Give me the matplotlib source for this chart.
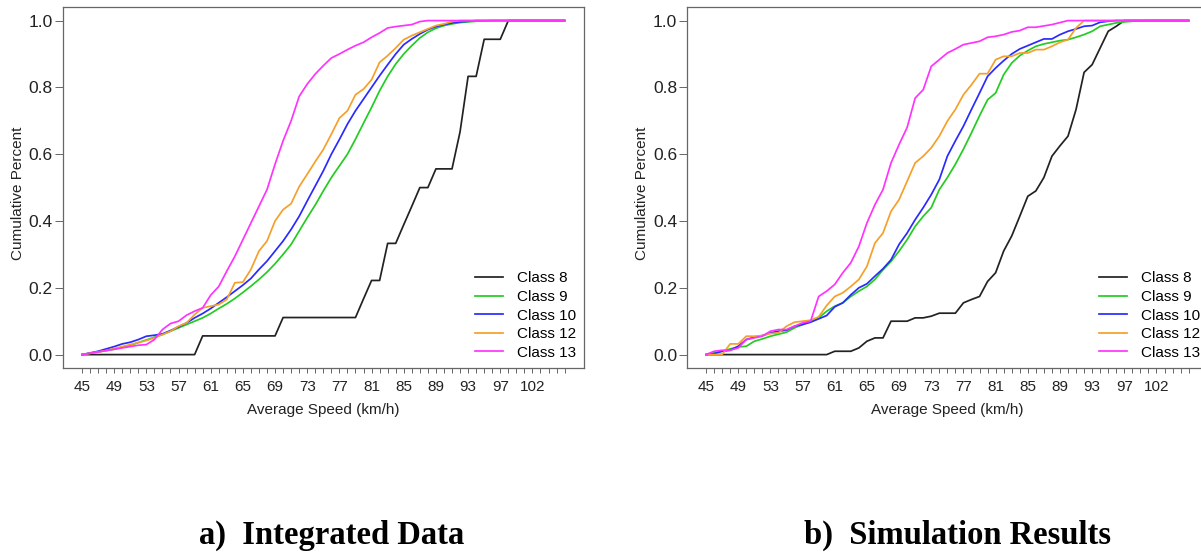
import numpy as np
import matplotlib
matplotlib.use("Agg")
from matplotlib import pyplot as plt

# average speed classes on the x axis (km/h); 99 has no records
speeds = list(range(45, 99)) + list(range(100, 107))
classes = ["Class 8", "Class 9", "Class 10", "Class 12", "Class 13"]
colors = ["#222222", "#22cc22", "#2a2aff", "#f5a02a", "#ff33ff"]

# integrated data, cumulative share per speed class
int_c8 = [0, 0, 0, 0, 0, 0, 0, 0, 0, 0, 0, 0, 0, 0, 0,
          0.056, 0.056, 0.056, 0.056, 0.056, 0.056, 0.056, 0.056, 0.056, 0.056,
          0.111, 0.111, 0.111, 0.111, 0.111, 0.111, 0.111, 0.111, 0.111, 0.111,
          0.167, 0.222, 0.222, 0.333, 0.333, 0.389, 0.444, 0.5, 0.5,
          0.556, 0.556, 0.556, 0.667, 0.833, 0.833, 0.944, 0.944, 0.944,
          1, 1, 1, 1, 1, 1, 1, 1]
int_c9 = [0, 0.004, 0.008, 0.012, 0.016, 0.022, 0.028, 0.036, 0.044, 0.052,
          0.06, 0.07, 0.08, 0.09, 0.1, 0.11, 0.123, 0.138, 0.152, 0.168,
          0.186, 0.205, 0.225, 0.247, 0.272, 0.3, 0.33, 0.37, 0.41, 0.448,
          0.49, 0.53, 0.565, 0.6, 0.645, 0.693, 0.74, 0.79, 0.833, 0.87,
          0.9, 0.925, 0.948, 0.965, 0.977, 0.985, 0.99, 0.994, 0.996, 0.998,
          0.999, 1, 1, 1, 1, 1, 1, 1, 1, 1, 1]
int_c10 = [0, 0.005, 0.01, 0.017, 0.024, 0.032, 0.037, 0.045, 0.055, 0.058,
           0.062, 0.072, 0.083, 0.095, 0.11, 0.123, 0.138, 0.155, 0.172, 0.19,
           0.208, 0.228, 0.255, 0.28, 0.31, 0.34, 0.375, 0.414, 0.46, 0.505,
           0.55, 0.6, 0.644, 0.69, 0.73, 0.765, 0.8, 0.835, 0.868, 0.9,
           0.928, 0.945, 0.96, 0.973, 0.982, 0.988, 0.993, 0.996, 0.998, 1,
           1, 1, 1, 1, 1, 1, 1, 1, 1, 1, 1]
int_c12 = [0, 0.004, 0.008, 0.012, 0.018, 0.024, 0.03, 0.036, 0.042, 0.05,
           0.06, 0.07, 0.085, 0.095, 0.12, 0.14, 0.145, 0.15, 0.165, 0.215,
           0.217, 0.255, 0.31, 0.34, 0.4, 0.434, 0.452, 0.503, 0.54, 0.578,
           0.614, 0.66, 0.708, 0.73, 0.778, 0.795, 0.823, 0.875, 0.895, 0.918,
           0.943, 0.955, 0.965, 0.975, 0.985, 0.99, 0.997, 1, 1, 1,
           1, 1, 1, 1, 1, 1, 1, 1, 1, 1, 1]
int_c13 = [0, 0.004, 0.008, 0.012, 0.016, 0.02, 0.024, 0.028, 0.03, 0.045,
           0.075, 0.093, 0.1, 0.118, 0.13, 0.14, 0.178, 0.204, 0.25, 0.294,
           0.344, 0.394, 0.444, 0.494, 0.57, 0.64, 0.7, 0.773, 0.81, 0.84,
           0.865, 0.888, 0.9, 0.913, 0.925, 0.935, 0.95, 0.963, 0.978, 0.982,
           0.985, 0.988, 0.997, 1, 1, 1, 1, 1, 1, 1,
           1, 1, 1, 1, 1, 1, 1, 1, 1, 1, 1]

# simulation results
sim_c8 = [0, 0, 0, 0, 0, 0, 0, 0, 0, 0, 0, 0, 0, 0, 0, 0,
          0.01, 0.01, 0.01, 0.02, 0.04, 0.05, 0.05, 0.1, 0.1, 0.1,
          0.11, 0.11, 0.115, 0.124, 0.124, 0.124, 0.155, 0.165, 0.174, 0.219,
          0.245, 0.31, 0.355, 0.414, 0.474, 0.49, 0.53, 0.594, 0.625, 0.654,
          0.734, 0.845, 0.868, 0.918, 0.968, 0.983, 1, 1, 1, 1, 1, 1, 1, 1, 1]
sim_c9 = [0, 0.005, 0.01, 0.017, 0.023, 0.025, 0.04, 0.047, 0.055, 0.061,
          0.067, 0.08, 0.09, 0.1, 0.11, 0.13, 0.145, 0.155, 0.174, 0.19,
          0.204, 0.225, 0.254, 0.279, 0.31, 0.344, 0.384, 0.414, 0.44, 0.494,
          0.53, 0.57, 0.615, 0.664, 0.715, 0.763, 0.783, 0.838, 0.873, 0.895,
          0.91, 0.923, 0.93, 0.935, 0.94, 0.943, 0.95, 0.958, 0.968, 0.983,
          0.988, 0.993, 0.996, 0.998, 0.999, 1, 1, 1, 1, 1, 1]
sim_c10 = [0, 0.003, 0.01, 0.013, 0.025, 0.045, 0.052, 0.057, 0.065, 0.07,
           0.073, 0.085, 0.09, 0.097, 0.107, 0.117, 0.143, 0.155, 0.179, 0.2,
           0.212, 0.235, 0.257, 0.284, 0.33, 0.364, 0.404, 0.44, 0.479, 0.524,
           0.594, 0.64, 0.684, 0.734, 0.783, 0.833, 0.858, 0.88, 0.9, 0.915,
           0.925, 0.935, 0.945, 0.945, 0.958, 0.968, 0.975, 0.983, 0.985, 0.995,
           0.998, 1, 1, 1, 1, 1, 1, 1, 1, 1, 1]
sim_c12 = [0, 0, 0, 0.032, 0.032, 0.055, 0.055, 0.057, 0.063, 0.065,
           0.085, 0.097, 0.1, 0.103, 0.113, 0.147, 0.174, 0.185, 0.204, 0.225,
           0.264, 0.334, 0.364, 0.429, 0.464, 0.519, 0.574, 0.594, 0.619, 0.654,
           0.699, 0.734, 0.778, 0.808, 0.841, 0.841, 0.883, 0.893, 0.893, 0.903,
           0.903, 0.913, 0.913, 0.923, 0.935, 0.943, 0.978, 1, 1, 1,
           1, 1, 1, 1, 1, 1, 1, 1, 1, 1, 1]
sim_c13 = [0, 0.01, 0.013, 0.013, 0.02, 0.045, 0.05, 0.055, 0.07, 0.075,
           0.075, 0.085, 0.095, 0.1, 0.174, 0.19, 0.21, 0.245, 0.275, 0.324,
           0.394, 0.449, 0.494, 0.574, 0.629, 0.68, 0.768, 0.793, 0.863, 0.883,
           0.903, 0.915, 0.928, 0.933, 0.938, 0.95, 0.953, 0.958, 0.966, 0.97,
           0.98, 0.98, 0.984, 0.988, 0.994, 1, 1, 1, 1, 1,
           1, 1, 1, 1, 1, 1, 1, 1, 1, 1, 1]

integrated = [int_c8, int_c9, int_c10, int_c12, int_c13]
simulated = [sim_c8, sim_c9, sim_c10, sim_c12, sim_c13]

plt.rcParams['font.family'] = ['Liberation Sans', 'DejaVu Sans']


def cdf_panel(fig, rect, series, legend_x):
  '''
  one cumulative curve panel, base R look
  '''
  ax = fig.add_axes(rect)
  x = np.arange(len(speeds))
  for vals, name, col in zip(series, classes, colors):
    ax.plot(x, vals, color=col, lw=1.25, label=name)

  ax.set_xlim(-0.04 * (len(speeds) - 1), 1.04 * (len(speeds) - 1))
  ax.set_ylim(-0.04, 1.04)
  for s in ax.spines.values():
    s.set_color('#666666')
    s.set_linewidth(0.9)

  # a tick for every class, a label on every fourth (the last one has no room)
  ax.set_xticks(x)
  ax.set_xticklabels([str(s) if i % 4 == 0 and s <= 102 else ''
                      for i, s in enumerate(speeds)])
  ax.set_yticks([0, 0.2, 0.4, 0.6, 0.8, 1.0])
  ax.set_yticklabels(['0.0', '0.2', '0.4', '0.6', '0.8', '1.0'])
  ax.tick_params(axis='x', length=3.5, width=0.7, color='#666666', pad=5,
                 labelsize=11, labelcolor='#222222')
  ax.tick_params(axis='y', length=5.5, width=0.7, color='#666666', pad=1.5,
                 labelsize=12.5, labelcolor='#222222')

  ax.text(0.5, -0.116, 'Average Speed (km/h)', transform=ax.transAxes,
          ha='center', va='center', fontsize=11, color='#222222')
  ax.text(-0.085, 0.485, 'Cumulative Percent', transform=ax.transAxes,
          rotation=90, ha='center', va='center', fontsize=11, color='#222222')

  ax.legend(loc='upper left', bbox_to_anchor=(legend_x, 0.511),
            bbox_transform=fig.transFigure, frameon=False, fontsize=11,
            handlelength=1.85, handletextpad=0.9, labelspacing=0.3,
            borderpad=0, borderaxespad=0)
  return ax


def main():
  fig = plt.figure(figsize=(12.01, 5.55), dpi=100)
  cdf_panel(fig, [0.0522, 0.337, 0.434, 0.650], integrated, 0.3955)
  cdf_panel(fig, [0.5718, 0.337, 0.434, 0.650], simulated, 0.915)

  fig.text(0.276, 0.036, 'a)  Integrated Data', ha='center', va='center',
           family='Liberation Serif', fontweight='bold', fontsize=23.5)
  fig.text(0.797, 0.036, 'b)  Simulation Results', ha='center', va='center',
           family='Liberation Serif', fontweight='bold', fontsize=23.5)

  fig.savefig('out.png', dpi=100)


if __name__ == "__main__":
  main()
